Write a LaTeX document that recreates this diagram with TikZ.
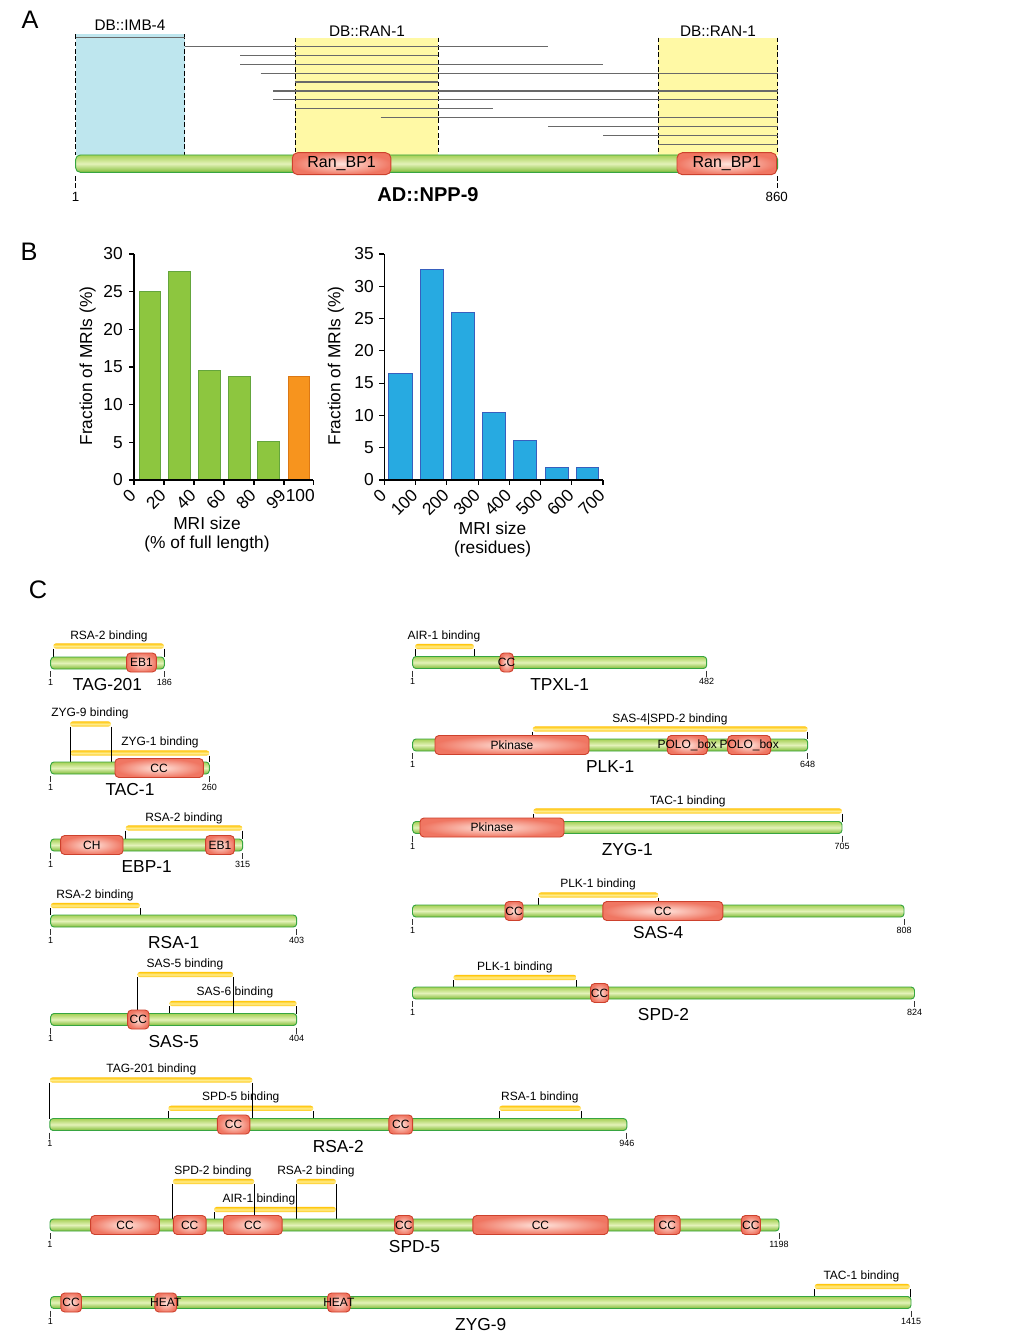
\documentclass[tikz,border=0pt]{standalone}
\usepackage{fontspec}
\setmainfont{Liberation Sans}
\definecolor{gTop}{RGB}{165,208,85}
\definecolor{gMid}{RGB}{228,242,185}
\definecolor{gBot}{RGB}{128,188,55}
\definecolor{gLine}{RGB}{55,165,65}
\definecolor{dIn}{RGB}{255,228,220}
\definecolor{dOut}{RGB}{240,118,98}
\definecolor{dLine}{RGB}{205,65,45}
\definecolor{gold}{RGB}{255,198,10}
\definecolor{goldL}{RGB}{255,236,140}
\definecolor{blueA}{RGB}{190,230,238}
\definecolor{yelA}{RGB}{255,249,165}
\definecolor{grayA}{RGB}{105,105,105}
\definecolor{barG}{RGB}{141,198,63}
\definecolor{barGl}{RGB}{100,165,60}
\definecolor{barO}{RGB}{247,148,30}
\definecolor{barOl}{RGB}{220,120,20}
\definecolor{barB}{RGB}{39,170,225}
\definecolor{barBl}{RGB}{55,95,190}
\newcounter{nid}
\newcommand\Lab[4]{\stepcounter{nid}\node[#1] (n\arabic{nid}) at ({#2},{#3}) {#4};}
\newcommand\Prot[5]{%
 \draw[pbar] (#1,#3-6) rectangle (#2,#3+6);
 \draw[rtick] (#1,#3+8) -- (#1,#3+14);
 \draw[rtick] (#2,#3+8) -- (#2,#3+14);
 \Lab{resn}{#1}{#3+19}{1}
 \Lab{resn}{#2}{#3+19}{#4}
 \Lab{pname}{(#1+#2)/2}{#3+22}{#5}}
\newcommand\Dom[4]{%
 \draw[dom] (#1,#3-9.5) rectangle (#2,#3+9.5);
 \Lab{domlab}{(#1+#2)/2}{#3}{#4}}
\newcommand\Bind[8]{%
 \Lab{binlab}{#7}{#8}{#6}
 \path[bind] (#1,#3-2.6) rectangle (#2,#3+2.6);
 \draw[btick] (#1,#3+2.6) -- (#1,#4);
 \draw[btick] (#2,#3+2.6) -- (#2,#5);}
\begin{document}
\begin{tikzpicture}[x=0.75pt,y=-0.75pt,
 pbar/.style={draw=gLine,line width=0.7pt,top color=gTop,bottom color=gBot,middle color=gMid,rounded corners=2.5pt},
 dom/.style={draw=dLine,line width=0.7pt,inner color=dIn,outer color=dOut,rounded corners=3pt},
 bind/.style={top color=gold,bottom color=gold,middle color=goldL,rounded corners=2pt},
 btick/.style={black,line width=0.5pt},
 rtick/.style={black!80,line width=0.5pt},
 resn/.style={font=\fontsize{6.75}{7}\selectfont,inner sep=0pt},
 pname/.style={font=\fontsize{13}{14}\selectfont,inner sep=0pt},
 domlab/.style={font=\fontsize{9}{10}\selectfont,inner sep=0pt},
 binlab/.style={font=\fontsize{9}{10}\selectfont,inner sep=0pt},
 panel/.style={font=\fontsize{19}{20}\selectfont,inner sep=0pt},
 dashA/.style={black,line width=0.8pt,dash pattern=on 3.5pt off 2pt},
 lineA/.style={grayA,line width=1pt},
 axis/.style={black,line width=0.8pt},
 blab/.style={font=\fontsize{13}{14}\selectfont,inner sep=0pt},
 albl/.style={font=\fontsize{11.5}{12}\selectfont,inner sep=0pt},
 gb/.style={fill=barG,draw=barGl,line width=0.5pt},
 ob/.style={fill=barO,draw=barOl,line width=0.5pt},
 bb/.style={fill=barB,draw=barBl,line width=0.5pt}]
\useasboundingbox (0,0) rectangle (1017,1341);
\fill[white] (0,0) rectangle (1017,1341);
% ---------------- Panel A
\Lab{panel}{30}{20}{A}
\fill[blueA] (75.6,34.3) rectangle (184.5,155);
\fill[yelA] (295.3,37.7) rectangle (438.4,155);
\fill[yelA] (658.2,37.7) rectangle (777.7,155);
\foreach \xx/\yy in {75.6/34.3,184.5/34.3,295.3/37.7,438.4/37.7,658.2/37.7,777.7/37.7}
  {\draw[dashA] (\xx,\yy) -- (\xx,155);}
\foreach \ya/\xa/\xb in {37.7/75.6/184.5, 46.7/184.5/548.3, 55.7/240/438.4, 64.3/240/603,
  73.3/260.6/777.7, 82/295.3/438.4, 91/273.4/777.7, 99.7/273.4/777.7, 108.7/295.3/493.1,
  117.7/380.7/777.7, 126.7/548.3/777.7, 135.3/603/777.7, 144.3/658.2/777.7}
  {\draw[lineA] (\xa,\ya) -- (\xb,\ya);}
\Lab{albl}{130}{25}{DB::IMB-4}
\Lab{albl}{367}{31.7}{DB::RAN-1}
\Lab{albl}{718}{31.7}{DB::RAN-1}
\draw[pbar,rounded corners=3.5pt] (75.6,155) rectangle (777.7,172.3);
\draw[dom,rounded corners=4pt] (292.3,152.7) rectangle (390.9,174.7);
\draw[dom,rounded corners=4pt] (677,152.7) rectangle (776.7,174.7);
\Lab{font=\fontsize{12}{13}\selectfont,inner sep=0pt}{341.6}{163.7}{Ran\_BP1}
\Lab{font=\fontsize{12}{13}\selectfont,inner sep=0pt}{726.8}{163.7}{Ran\_BP1}
\draw[dashA] (75.6,176) -- (75.6,190);
\draw[dashA] (777.7,176) -- (777.7,190);
\Lab{font=\fontsize{10}{11}\selectfont,inner sep=0pt}{75.6}{197.3}{1}
\Lab{font=\fontsize{10}{11}\selectfont,inner sep=0pt}{776.7}{197.3}{860}
\Lab{font=\bfseries\fontsize{15}{16}\selectfont,inner sep=0pt}{428}{195}{AD::NPP-9}
% ---------------- Panel B
\Lab{panel}{29}{252}{B}
% left chart
\draw[gb] (138.9,480) rectangle (160.7,291.7);
\draw[gb] (168.6,480) rectangle (190,271.3);
\draw[gb] (198.4,480) rectangle (220.2,370);
\draw[gb] (228,480) rectangle (250,376.8);
\draw[gb] (257.8,480) rectangle (279.4,441.6);
\draw[ob] (288,480) rectangle (309.5,376.8);
\draw[axis] (134,254) -- (134,480) -- (313.4,480);
\foreach \v/\yy in {0/480,5/442.3,10/404.7,15/367,20/329.3,25/291.7,30/254}{
  \draw[axis] (129,\yy) -- (134,\yy);
  \Lab{blab,anchor=east}{123}{\yy}{\v}}
\foreach \xx in {134,164,194,224,254,284,313.4}
  {\draw[axis] (\xx,480) -- (\xx,485);}
\foreach \v/\xx in {0/134,20/164,40/194,60/224,80/254,99/284}
  {\Lab{blab,anchor=east,rotate=45}{\xx-1}{492}{\v}}
\Lab{blab,anchor=north east}{315}{489}{100}
\Lab{blab,rotate=90}{87.6}{366}{Fraction of MRIs (\%)}
\Lab{blab}{207}{523.3}{MRI size}
\Lab{blab}{207}{544.5}{(\% of full length)}
% right chart
\draw[bb] (388.7,480) rectangle (412,373.5);
\draw[bb] (420.2,480) rectangle (443.1,268.9);
\draw[bb] (451.4,480) rectangle (474,312.1);
\draw[bb] (482.6,480) rectangle (505.2,412.2);
\draw[bb] (513.8,480) rectangle (536.3,440);
\draw[bb] (545,480) rectangle (568,467.1);
\draw[bb] (576.1,480) rectangle (598.7,467.1);
\draw[axis] (384.4,254) -- (384.4,480) -- (603,480);
\foreach \v/\yy in {0/480,5/447.7,10/415.4,15/383.1,20/350.9,25/318.6,30/286.3,35/254}{
  \draw[axis] (379.4,\yy) -- (384.4,\yy);
  \Lab{blab,anchor=east}{374}{\yy}{\v}}
\foreach \v/\xx in {0/384.4,100/415.6,200/446.9,300/478.1,400/509.3,500/540.6,600/571.8,700/603}{
  \draw[axis] (\xx,480) -- (\xx,485);
  \Lab{blab,anchor=east,rotate=45}{\xx-1}{492}{\v}}
\Lab{blab,rotate=90}{336}{366}{Fraction of MRIs (\%)}
\Lab{blab}{492.6}{528.3}{MRI size}
\Lab{blab}{492.6}{549.3}{(residues)}
% ---------------- Panel C
\Lab{panel}{38}{590}{C}
% TAG-201
\Bind{53.3}{164}{646}{657}{657}{RSA-2 binding}{109}{636}
\Prot{50.7}{164.3}{663}{186}{TAG-201}
\Dom{126.7}{156.3}{662.5}{EB1}
% TAC-1
\Bind{70}{209.3}{753}{762}{762}{ZYG-1 binding}{160}{742}
\Bind{70}{111}{724}{762}{762}{ZYG-9 binding}{90}{713}
\Prot{50.7}{209.3}{768}{260}{TAC-1}
\Dom{115}{203.3}{768}{CC}
% EBP-1
\Bind{125.7}{242.3}{828}{839}{839}{RSA-2 binding}{184}{818}
\Prot{50.7}{242.7}{845}{315}{EBP-1}
\Dom{60.7}{123}{845}{CH}
\Dom{205.7}{234.3}{845}{EB1}
% RSA-1
\Bind{50.7}{140}{905.5}{915}{915}{RSA-2 binding}{95}{895.7}
\Prot{50.7}{296.7}{921}{403}{RSA-1}
% SAS-5
\Bind{169.3}{296.7}{1003.5}{1013.5}{1013.5}{SAS-6 binding}{235}{992.7}
\Bind{137.3}{233.3}{974.5}{1010}{1013.5}{SAS-5 binding}{185}{964.7}
\Prot{50.7}{296.7}{1019.5}{404}{SAS-5}
\Dom{127.7}{149}{1019.5}{CC}
% TPXL-1
\Bind{415}{474}{646.5}{656.5}{656.5}{AIR-1 binding}{444}{636}
\Prot{412.7}{706.7}{662.5}{482}{TPXL-1}
\Dom{500}{513.3}{662.5}{CC}
% PLK-1
\Bind{532.7}{807.7}{729}{739}{739}{SAS-4|SPD-2 binding}{670}{719}
\Prot{412.7}{807.7}{745}{648}{PLK-1}
\Dom{435}{589}{745}{Pkinase}
\Dom{667.3}{707.3}{745}{POLO\_box}
\Dom{727.7}{770.7}{745}{POLO\_box}
% ZYG-1
\Bind{533.3}{842}{811}{821.5}{821.5}{TAC-1 binding}{687.7}{801.7}
\Prot{412.7}{842}{827.5}{705}{ZYG-1}
\Dom{420}{564}{827.5}{Pkinase}
% SAS-4
\Bind{538.3}{658.3}{895}{905}{905}{PLK-1 binding}{598}{884.3}
\Prot{412.5}{904}{911}{808}{SAS-4}
\Dom{505}{523}{911}{CC}
\Dom{602.8}{722.8}{911}{CC}
% SPD-2
\Bind{453.4}{576.6}{977.5}{987}{987}{PLK-1 binding}{514.8}{967.3}
\Prot{412.5}{914.5}{993}{824}{SPD-2}
\Dom{590.7}{608.6}{993}{CC}
% RSA-2
\Bind{168.3}{313.4}{1108.3}{1118.5}{1118.5}{SPD-5 binding}{240.7}{1097.7}
\Bind{499.2}{581}{1108.3}{1118.5}{1118.5}{RSA-1 binding}{539.9}{1097.7}
\Bind{49.8}{252.5}{1080}{1118.5}{1118.5}{TAG-201 binding}{151.3}{1069.3}
\Prot{49.8}{626.8}{1124.5}{946}{RSA-2}
\Dom{217.4}{249.8}{1124.5}{CC}
\Dom{388.9}{412.6}{1124.5}{CC}
% SPD-5
\Bind{214}{336}{1209.5}{1219}{1219}{AIR-1 binding}{258.9}{1199}
\Bind{172.8}{254.4}{1181.5}{1219}{1219}{SPD-2 binding}{213}{1171}
\Bind{296.2}{336}{1181.5}{1219}{1219}{RSA-2 binding}{316}{1171}
\Prot{50}{779}{1225}{1198}{SPD-5}
\Dom{90.7}{159.4}{1225}{CC}
\Dom{173.3}{206.1}{1225}{CC}
\Dom{223.5}{282.2}{1225}{CC}
\Dom{394.7}{413.1}{1225}{CC}
\Dom{472.8}{608.1}{1225}{CC}
\Dom{654.4}{680.2}{1225}{CC}
\Dom{741.4}{760.3}{1225}{CC}
% ZYG-9
\Bind{814.6}{909.9}{1286.5}{1296.5}{1296.5}{TAC-1 binding}{861.4}{1276}
\Prot{50.5}{911}{1302.5}{1415}{ZYG-9}
\Dom{60.8}{81.5}{1302.5}{CC}
\Dom{154.9}{176.7}{1302.5}{HEAT}
\Dom{327.6}{350.1}{1302.5}{HEAT}
\end{tikzpicture}
\end{document}
